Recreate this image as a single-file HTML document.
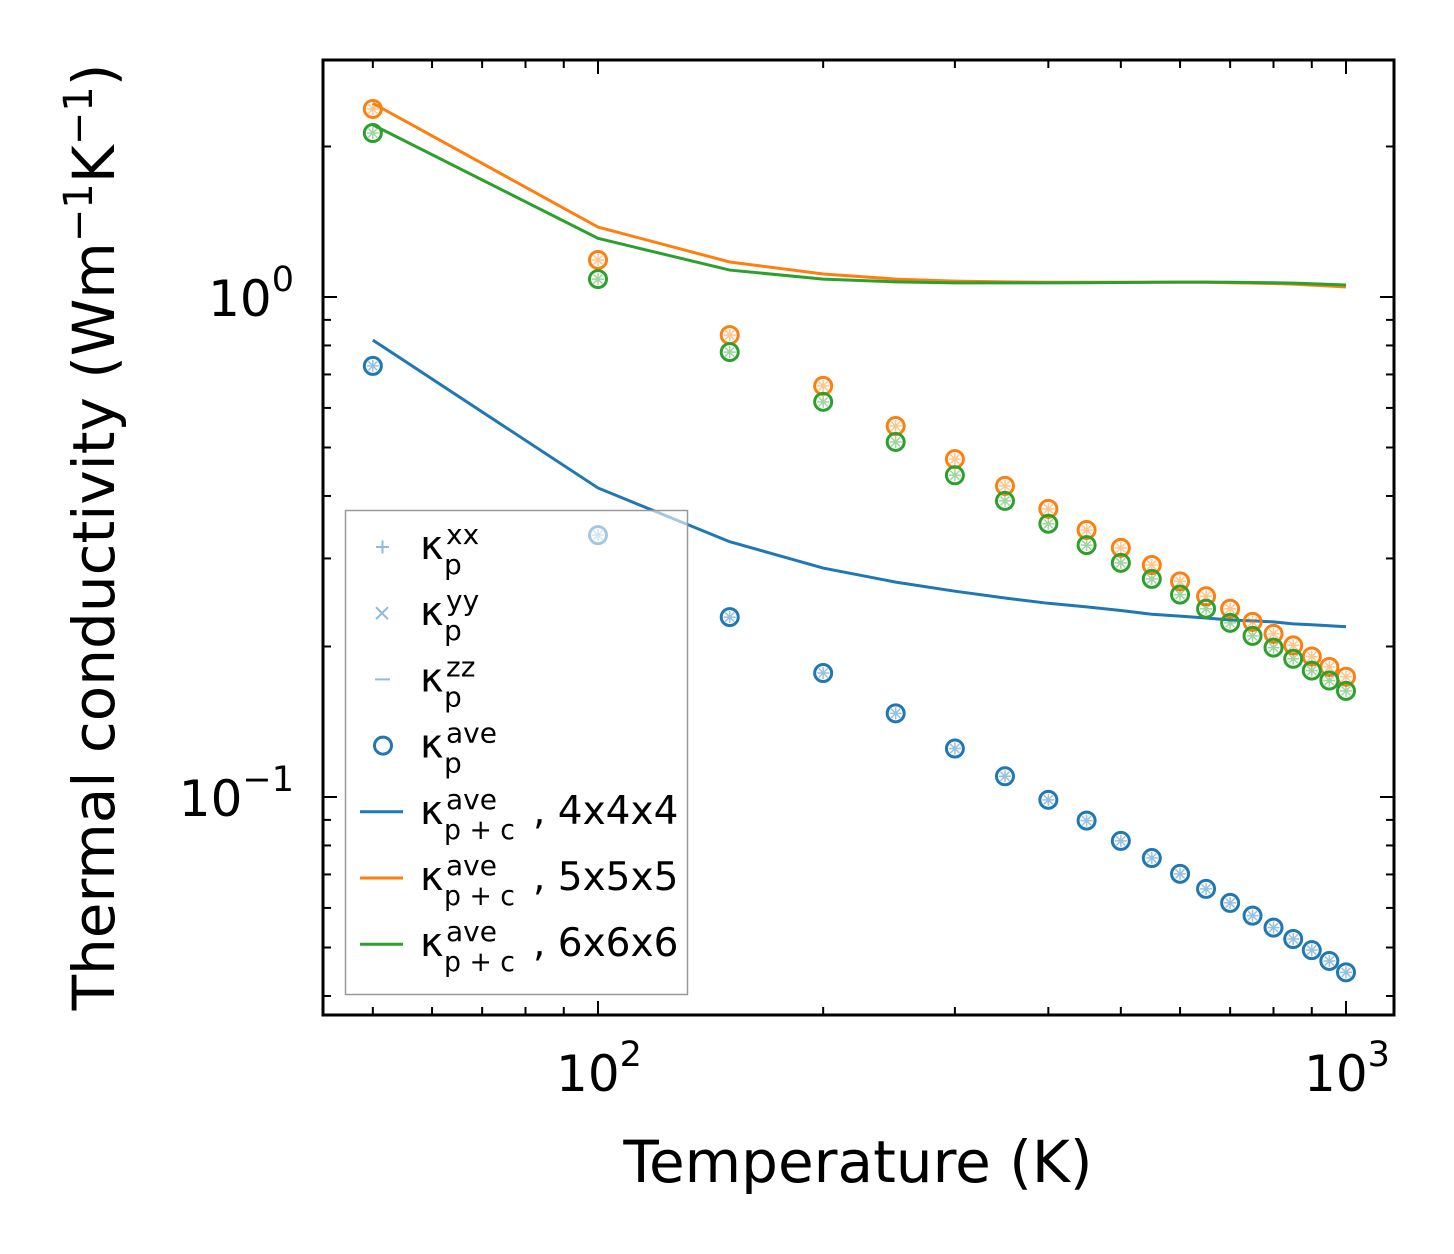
<!DOCTYPE html>
<html><head><meta charset="utf-8"><style>
body{margin:0;background:#fff}
svg{display:block;font-family:"DejaVu Sans","Liberation Sans",sans-serif}
</style></head><body>
<svg id="chart" width="1454" height="1254" viewBox="0 0 1454 1254">
<g id="marks"></g>
<rect x="323" y="60" width="1071" height="955" fill="none" stroke="#000" stroke-width="3"/>
<g id="ticks"></g>
<text x="858" y="1182" font-size="58" text-anchor="middle">Temperature (K)</text>
<text transform="translate(114,537) rotate(-90)" font-size="58" text-anchor="middle">Thermal conductivity (Wm<tspan dy="-22" font-size="40">−1</tspan><tspan dy="22">K</tspan><tspan dy="-22" font-size="40">−1</tspan><tspan dy="22">)</tspan></text>
<g id="legend"></g>
</svg>
<script>
const temps=[50,100,150,200,250,300,350,400,450,500,550,600,650,700,750,800,850,900,950,1000];
const blueP=[0.728,0.334,0.229,0.177,0.147,0.125,0.110,0.0987,0.0897,0.0817,0.0755,0.0702,0.0655,0.0614,0.0579,0.0548,0.0520,0.0494,0.0470,0.0446];
const orangeP=[2.377,1.186,0.839,0.664,0.552,0.474,0.419,0.377,0.342,0.315,0.291,0.270,0.252,0.238,0.224,0.212,0.201,0.191,0.182,0.174];
const greenP=[2.128,1.086,0.776,0.617,0.513,0.440,0.391,0.352,0.319,0.294,0.273,0.254,0.238,0.223,0.210,0.199,0.189,0.179,0.171,0.163];
const blueL=[0.820,0.415,0.324,0.287,0.269,0.258,0.250,0.244,0.240,0.236,0.232,0.230,0.228,0.226,0.225,0.224,0.222,0.221,0.220,0.219];
const orangeL=[2.44,1.38,1.175,1.112,1.086,1.076,1.072,1.070,1.070,1.070,1.070,1.070,1.070,1.068,1.066,1.064,1.061,1.056,1.052,1.047];
const greenL=[2.21,1.31,1.132,1.086,1.072,1.067,1.067,1.067,1.068,1.069,1.070,1.071,1.071,1.070,1.069,1.068,1.066,1.063,1.060,1.057];
const xMajor=[100,1000],xMajorExp=["2","3"];
const yMajor=[0.1,1],yMajorExp=["−1","0"];
const NS="http://www.w3.org/2000/svg";
function X(t){return 598+748*Math.log10(t/100);}
function Y(v){return 297-500*Math.log10(v);}
function el(tag,at,parent){const e=document.createElementNS(NS,tag);for(const k in at)e.setAttribute(k,at[k]);parent.appendChild(e);return e;}
const marks=document.getElementById('marks');
const C={b:'#1f77b4',o:'#ff7f0e',g:'#2ca02c'};
function line(vals,col,name){const p=el('polyline',{points:temps.map((t,i)=>X(t)+','+Y(vals[i])).join(' '),fill:'none',stroke:col,'stroke-width':3},marks);

}
function pts(vals,col,name){temps.forEach((t,i)=>{const g=el('g',{opacity:1},marks);


const x=X(t),y=Y(vals[i]);
el('path',{d:`M${x-6},${y}h12M${x},${y-6}v12M${x-4.5},${y-4.5}l9,9M${x-4.5},${y+4.5}l9,-9`,stroke:col,'stroke-width':1.5,opacity:0.45},g);
el('circle',{cx:x,cy:y,r:8.5,fill:'none',stroke:col,'stroke-width':3},g);});}
line(orangeL,C.o,'line-5x5x5');line(greenL,C.g,'line-6x6x6');line(blueL,C.b,'line-4x4x4');
pts(orangeP,C.o,'point-orange');pts(greenP,C.g,'point-green');pts(blueP,C.b,'point-blue');
const tk=document.getElementById('ticks');
function tick(x1,y1,x2,y2){el('line',{x1,y1,x2,y2,stroke:'#000','stroke-width':2},tk);}
const xMinor=[50,60,70,80,90,200,300,400,500,600,700,800,900];
xMinor.forEach(t=>{const x=X(t);tick(x,1015,x,1007);tick(x,60,x,68);});
xMajor.forEach((t,i)=>{const x=X(t);tick(x,1015,x,1001);tick(x,60,x,74);
const tx=el('text',{x:x+1,y:1091,'font-size':50,'text-anchor':'middle'},tk);
tx.innerHTML=`10<tspan dy="-25" font-size="35">${xMajorExp[i]}</tspan>`;

});
const yMinor=[0.04,0.05,0.06,0.07,0.08,0.09,0.2,0.3,0.4,0.5,0.6,0.7,0.8,0.9,2];
yMinor.forEach(v=>{const y=Y(v);tick(323,y,331,y);tick(1394,y,1386,y);});
yMajor.forEach((v,i)=>{const y=Y(v);tick(323,y,337,y);tick(1394,y,1380,y);
const tx=el('text',{x:294,y:y+19,'font-size':50,'text-anchor':'end'},tk);
tx.innerHTML=`10<tspan dy="-25" font-size="35">${yMajorExp[i]}</tspan>`;

});
const lg=document.getElementById('legend');
el('rect',{x:345.5,y:510.5,width:342,height:484,fill:'#fff','fill-opacity':0.6,stroke:'#999','stroke-width':1.5},lg);
const ents=[['+','xx','',''],['x','yy','',''],['-','zz','',''],['o','ave','',''],['l','ave','p + c',', 4x4x4',C.b],['l','ave','p + c',', 5x5x5',C.o],['l','ave','p + c',', 6x6x6',C.g]];
const lc='#8fbbdc';
ents.forEach((en,i)=>{const y=547+i*66.2;const g=el('g',{},lg);


const m=en[0];
if(m==='+')el('path',{d:`M376,${y}h13M382.5,${y-6.5}v13`,stroke:lc,'stroke-width':2},g);
if(m==='x')el('path',{d:`M376,${y-6}l12,12M376,${y+6}l12,-12`,stroke:lc,'stroke-width':2},g);
if(m==='-')el('path',{d:`M375,${y}h15`,stroke:lc,'stroke-width':2},g);
if(m==='o')el('circle',{cx:383,cy:y,r:8.5,fill:'none',stroke:C.b,'stroke-width':3},g);
if(m==='l')el('path',{d:`M360,${y}h43`,stroke:en[4],'stroke-width':3},g);
const t=el('text',{x:420,y:y+12,'font-size':40},g);t.textContent='κ';
const sb=el('text',{x:444,y:y+27,'font-size':28},g);sb.textContent=en[2]||'p';
if(en[2]){sb.setAttribute('textLength','71');sb.setAttribute('lengthAdjust','spacingAndGlyphs');}
const s=el('text',{x:446,y:y-3,'font-size':28},g);s.textContent=en[1];
if(en[3]){const r=el('text',{x:533,y:y+12,'font-size':39},g);r.textContent=en[3];}});
</script>
</body></html>
